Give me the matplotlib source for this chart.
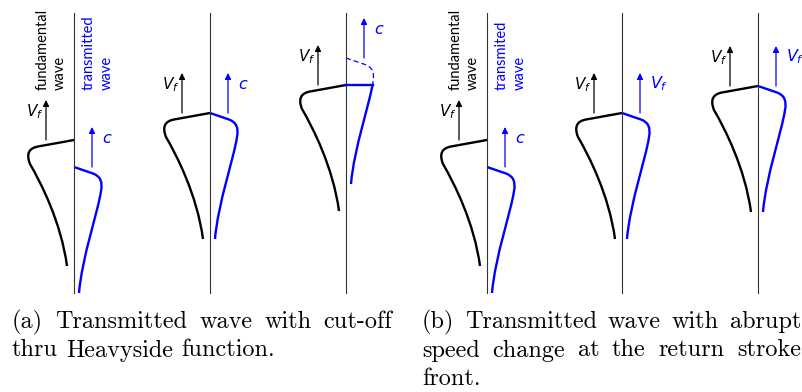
import numpy as np
import matplotlib.pyplot as plt
from matplotlib.path import Path
from matplotlib.patches import PathPatch, Rectangle
from matplotlib.transforms import Affine2D

plt.rcParams['mathtext.fontset'] = 'dejavusans'

# wave profiles as bezier outlines, pixel offsets from the front (y grows downward)
fund_verts = [(0, 0), (-36, 6.5), (-50, 9), (-44, 24),
              (-33, 43), (-13, 82), (-7, 126)]
trans_verts = [(0, 0), (19, 6.5), (30, 10.5), (27, 24),
               (24, 45), (8, 90), (5, 126)]
profile_codes = [Path.MOVETO, Path.LINETO, Path.CURVE3, Path.CURVE3,
                 Path.CURVE4, Path.CURVE4, Path.CURVE4]

# one entry per snapshot: (a) x3 then (b) x3
axis_x = [74, 210, 346, 487, 622, 758]
fund_front = [140, 113, 85, 140, 113, 86]
trans_front = [167, 113, 58, 167, 113, 86]
trans_cut = [None, None, 85, None, None, None]
trans_speed = ['$c$', '$c$', '$c$', '$c$', '$V_f$', '$V_f$']
wave_names = {0: 'transmitted\nwave', 3: 'transmited\nwave'}

cap_a = ["(a) Transmitted wave with cut-off", "thru Heavyside function."]
cap_b = ["(b) Transmitted wave with abrupt", "speed change at the return stroke", "front."]

BLUE = '#0000ff'

fig = plt.figure(figsize=(8.03, 3.92), dpi=100)
ax = fig.add_axes([0, 0, 1, 1])
ax.set_xlim(0, 803)
ax.set_ylim(392, 0)
ax.axis('off')

fund_path = Path(fund_verts, profile_codes)
trans_path = Path(trans_verts, profile_codes)


def wave(path, x0, y0, color, lw=1.7, ls='-', clip=None):
    tr = Affine2D().translate(x0, y0) + ax.transData
    p = PathPatch(path, fill=False, edgecolor=color, lw=lw, ls=ls,
                  joinstyle='round', capstyle='butt', transform=tr)
    ax.add_patch(p)
    if clip is not None:
        p.set_clip_path(clip)
    return p


def arrow(x, y0, color):
    ax.annotate('', xy=(x, y0 - 40), xytext=(x, y0),
                arrowprops=dict(arrowstyle='-|>', color=color, lw=0.9,
                                mutation_scale=9, shrinkA=0, shrinkB=0))


for i, x0 in enumerate(axis_x):
    ax.plot([x0, x0], [13, 293], color='#333333', lw=0.8)

    yf = fund_front[i]
    wave(fund_path, x0, yf, 'black')

    yt = trans_front[i]
    if trans_cut[i] is None:
        wave(trans_path, x0, yt, BLUE)
    else:
        # heaviside cut: dashed above the cut level, solid below
        yc = trans_cut[i]
        top = Rectangle((x0, 0), 60, yc, transform=ax.transData)
        bottom = Rectangle((x0, yc), 60, 300, transform=ax.transData)
        wave(trans_path, x0, yt, BLUE, lw=0.9, ls=(0, (4, 2.5)), clip=top)
        wave(trans_path, x0, yt, BLUE, clip=bottom)
        poly = trans_path.to_polygons(closed_only=False)[0]
        k = np.argmax(poly[:, 1] > yc - yt)
        xc = np.interp(yc - yt, poly[k - 1:k + 1, 1], poly[k - 1:k + 1, 0])
        ax.plot([x0, x0 + xc], [yc, yc], color=BLUE, lw=1.7)

    # front speeds
    arrow(x0 - 28, yf, 'black')
    ax.text(x0 - 30, yf - 28, '$V_f$', color='black', fontsize=11,
            ha='right', va='center')
    arrow(x0 + 18, yt, BLUE)
    ax.text(x0 + 28, yt - 29, trans_speed[i], color=BLUE, fontsize=11.5,
            ha='left', va='center')

    if i in wave_names:
        ax.text(x0 - 7, 90, 'fundamental\nwave', rotation=90, color='black',
                family='Lato', fontsize=10.5, linespacing=1.3,
                ha='right', va='bottom', multialignment='left')
        ax.text(x0 + 8, 90, wave_names[i], rotation=90, color=BLUE,
                family='Lato', fontsize=10.5, linespacing=1.3,
                ha='left', va='bottom', multialignment='left')

# captions, justified like the typeset text
renderer = fig.canvas.get_renderer()
CAP_SIZE = 17.5


def caption(lines, x0, x1, y0, dy=28.5):
    for k, line in enumerate(lines):
        y = y0 + k * dy
        words = line.split(' ')
        texts = [ax.text(0, y, w, family='cmr10', fontsize=CAP_SIZE, va='baseline')
                 for w in words]
        widths = [t.get_window_extent(renderer).width for t in texts]
        if k == len(lines) - 1:
            gap = 0.333 * CAP_SIZE * 100 / 72
        else:
            gap = (x1 - x0 - sum(widths)) / (len(words) - 1)
        x = x0
        for t, w in zip(texts, widths):
            t.set_x(x)
            x += w + gap


caption(cap_a, 12, 392, 328)
caption(cap_b, 422, 801, 328)

fig.savefig('out.png', dpi=100)
